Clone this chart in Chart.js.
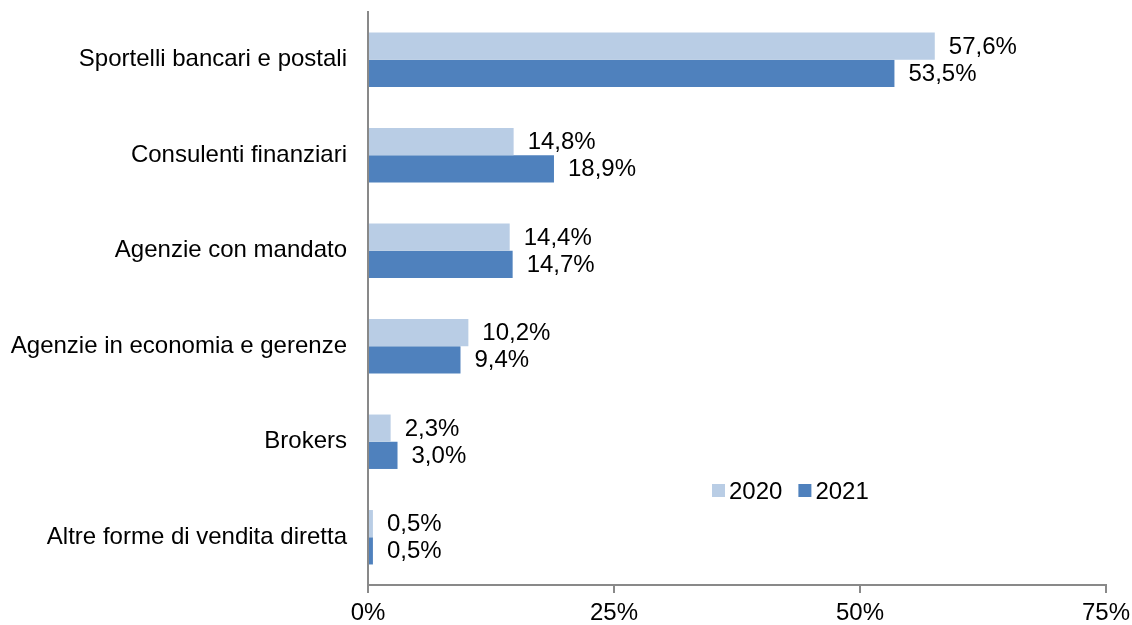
<!DOCTYPE html>
<html>
<head>
<meta charset="utf-8">
<script src="https://cdn.jsdelivr.net/npm/chart.js@4"></script>
<style>
  body { margin: 0; background: #fff; }
  #wrap { width: 1132px; height: 625px; position: relative; }
</style>
</head>
<body>
<div id="wrap"><canvas id="chart"></canvas></div>
<script>
const categories = [
    'Sportelli bancari e postali',
    'Consulenti finanziari',
    'Agenzie con mandato',
    'Agenzie in economia e gerenze',
    'Brokers',
    'Altre forme di vendita diretta'
];
const seriesNames = ['2020', '2021'];
const values2020 = [57.6, 14.8, 14.4, 10.2, 2.3, 0.5];
const values2021 = [53.5, 18.9, 14.7, 9.4, 3.0, 0.5];
const xTicks = [0, 25, 50, 75];

const colors = ['#b9cde5', '#4f81bd'];
const fontFamily = '"Liberation Sans", Arial, sans-serif';
const fontSize = 24;
const axisColor = '#898989';

// etichette dei valori a destra delle barre
const valueLabels = {
    id: 'valueLabels',
    afterDatasetsDraw(chart) {
        const ctx = chart.ctx;
        ctx.save();
        ctx.font = fontSize + 'px ' + fontFamily;
        ctx.fillStyle = '#000';
        ctx.textAlign = 'left';
        ctx.textBaseline = 'middle';
        chart.data.datasets.forEach((ds, i) => {
            chart.getDatasetMeta(i).data.forEach((bar, j) => {
                const txt = ds.data[j].toFixed(1).replace('.', ',') + '%';
                ctx.fillText(txt, bar.x + 14, bar.y + 1);
            });
        });
        ctx.restore();
    }
};

// legenda dentro l'area del grafico
const innerLegend = {
    id: 'innerLegend',
    afterDraw(chart) {
        const ctx = chart.ctx;
        ctx.save();
        ctx.font = fontSize + 'px ' + fontFamily;
        ctx.textBaseline = 'middle';
        ctx.textAlign = 'left';
        let x = 712;
        const y = 491;
        chart.data.datasets.forEach(ds => {
            ctx.fillStyle = ds.backgroundColor;
            ctx.fillRect(x, y - 7, 13, 13);
            ctx.fillStyle = '#000';
            ctx.fillText(ds.label, x + 17, y + 1);
            x += 17 + ctx.measureText(ds.label).width + 16;
        });
        ctx.restore();
    }
};

new Chart(document.getElementById('chart'), {
    type: 'bar',
    data: {
        labels: categories,
        datasets: [
            { label: seriesNames[0], data: values2020, backgroundColor: colors[0] },
            { label: seriesNames[1], data: values2021, backgroundColor: colors[1] }
        ]
    },
    options: {
        indexAxis: 'y',
        responsive: true,
        maintainAspectRatio: false,
        animation: false,
        layout: { padding: { top: 12, right: 26, left: 0, bottom: 0 } },
        datasets: { bar: { barPercentage: 1, categoryPercentage: 0.57 } },
        plugins: {
            legend: { display: false },
            tooltip: { enabled: false }
        },
        scales: {
            x: {
                min: 0,
                max: 75,
                afterBuildTicks: s => { s.ticks = xTicks.map(v => ({ value: v })); },
                afterFit: s => { s.height = 40; s.paddingLeft = 0; s.paddingRight = 0; },
                grid: { drawOnChartArea: false, drawTicks: true, tickLength: 8, color: axisColor, lineWidth: 2 },
                border: { display: true, color: axisColor, width: 2 },
                ticks: {
                    color: '#000',
                    font: { family: fontFamily, size: fontSize },
                    padding: 6,
                    maxRotation: 0,
                    callback: v => v + '%'
                }
            },
            y: {
                afterFit: s => { s.width = 368; s.paddingTop = 0; s.paddingBottom = 0; },
                grid: { display: false },
                border: { display: true, color: axisColor, width: 2 },
                ticks: {
                    color: '#000',
                    font: { family: fontFamily, size: fontSize },
                    padding: 13
                }
            }
        }
    },
    plugins: [valueLabels, innerLegend]
});
</script>
</body>
</html>
